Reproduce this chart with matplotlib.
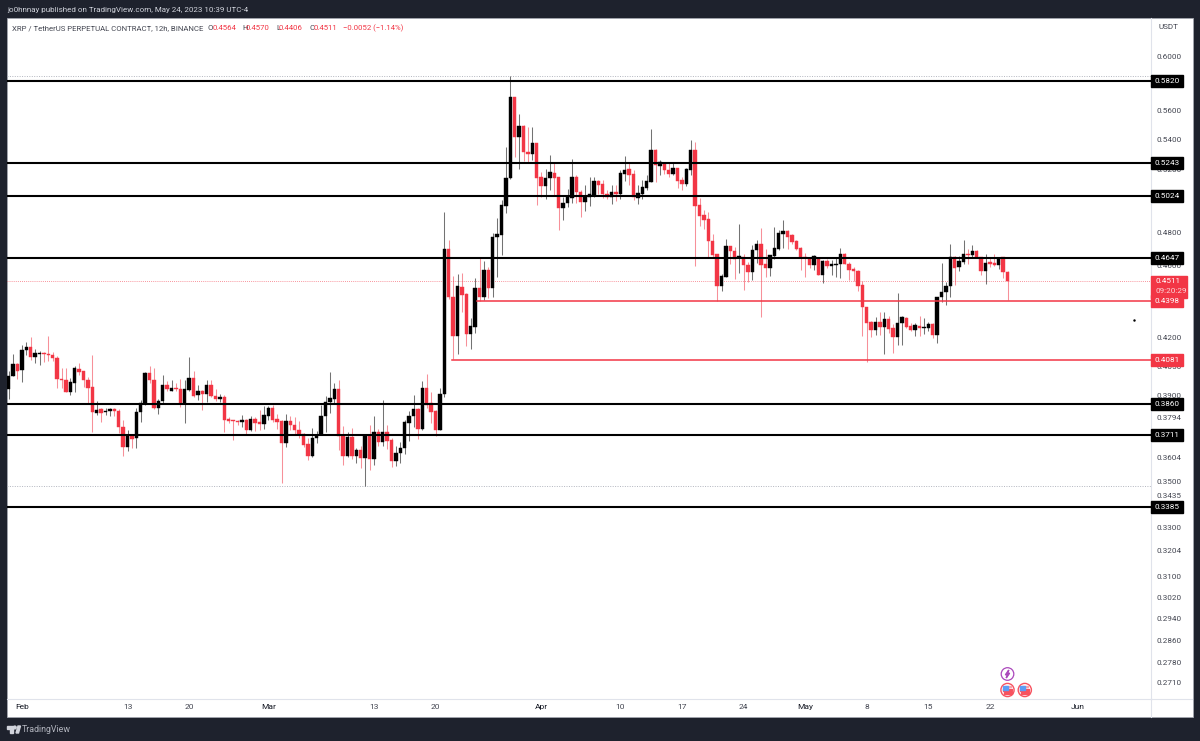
import matplotlib
matplotlib.use("Agg")
import matplotlib.pyplot as plt
from matplotlib.patches import Rectangle, Circle, Polygon

plt.rcParams["font.family"] = ["Roboto", "DejaVu Sans"]

opens = [
    .3935, .3997, .4061, .4031, .4134, .4148, .4099, .4115, .4120, .4113,
    .4108, .4094, .3985, .3980, .3920, .3963, .4036, .4024, .3980, .3943,
    .3818, .3835, .3819, .3824, .3835, .3826, .3749, .3654, .3708, .3695,
    .3821, .3864, .4014, .3980, .3840, .3874, .3953, .3926, .3941, .3933,
    .3861, .3930, .3988, .3904, .3922, .3907, .3955, .3900, .3883, .3893,
    .3787, .3782, .3778, .3770, .3780, .3736, .3787, .3771, .3765, .3803, .3838,
    .3787, .3779, .3674, .3775, .3756, .3736, .3717, .3670, .3612, .3697,
    .3714, .3800, .3867, .3886, .3933, .3709, .3613, .3703, .3615, .3640,
    .3603, .3712, .3601, .3726, .3677, .3725, .3686, .3588, .3625, .3648,
    .3768, .3800, .3835, .3741, .3938, .3864, .3827, .3733, .3910, .4698,
    .4424, .4209, .4477, .4437, .4216, .4255, .4470, .4424, .4574, .4473,
    .4771, .4785, .4965, .5142, .5703, .5415, .5492, .5317, .5299, .5374,
    .5150, .5090, .5142, .5174, .5150, .4952, .4981, .5015, .5150, .5055,
    .4986, .5019, .5029, .5124, .5102, .5042, .5023, .5050, .5036, .5171,
    .5201, .5167, .5015, .5042, .5076, .5117, .5326, .5224, .5241, .5197,
    .5171, .5210, .5128, .5106, .5197, .5326, .4969, .4906, .4881, .4747,
    .4667, .4483, .4536, .4715, .4688, .4645, .4651, .4607, .4561, .4692,
    .4727, .4613, .4590, .4659, .4702, .4791, .4808, .4781, .4747, .4705,
    .4649, .4643, .4603, .4645, .4546, .4629, .4601, .4607, .4609, .4667,
    .4613, .4580, .4572, .4488, .4367, .4283, .4240, .4285, .4258, .4300,
    .4251, .4203, .4279, .4306, .4262, .4240, .4262, .4251, .4251, .4271,
    .4213, .4420, .4449, .4483, .4649, .4595, .4625, .4672, .4664, .4686,
    .4649, .4570, .4620, .4617, .4603, .4649, .4564,
]
highs = [
    .4027, .4113, .4068, .4160, .4178, .4201, .4139, .4130, .4125, .4209,
    .4125, .4103, .4040, .4040, .3988, .4048, .4065, .4027, .3993, .4106,
    .3875, .3840, .3840, .3842, .3838, .3835, .3784, .3733, .3712, .3840,
    .3880, .4022, .4051, .4040, .3883, .4005, .3972, .3980, .3963, .3984,
    .3980, .4095, .4027, .3953, .3930, .3980, .3980, .3933, .3910, .3905,
    .3797, .3784, .3784, .3808, .3787, .3803, .3797, .3829, .3851, .3848, .3856,
    .3813, .3784, .3810, .3803, .3797, .3775, .3720, .3695, .3742, .3728,
    .3853, .3900, .4022, .3963, .3980, .3752, .3723, .3744, .3652, .3658,
    .3715, .3760, .3803, .3739, .3877, .3760, .3697, .3661, .3677, .3780,
    .3824, .3905, .3840, .3972, .4010, .3917, .3832, .3938, .4927, .4751,
    .4540, .4551, .4559, .4441, .4303, .4532, .4652, .4629, .4595, .4795,
    .4887, .4999, .5348, .5856, .5703, .5578, .5499, .5487, .5487, .5376,
    .5182, .5201, .5292, .5241, .5150, .5019, .5074, .5268, .5161, .5063,
    .5096, .5150, .5146, .5128, .5128, .5063, .5096, .5096, .5193, .5285,
    .5239, .5193, .5096, .5132, .5161, .5470, .5337, .5264, .5249, .5249,
    .5241, .5210, .5150, .5210, .5394, .5381, .5015, .4939, .4923, .4787,
    .4672, .4551, .4761, .4715, .4711, .4852, .4667, .4623, .4721, .4751,
    .4829, .4702, .4661, .4832, .4816, .4873, .4816, .4787, .4755, .4711,
    .4676, .4651, .4661, .4645, .4633, .4637, .4633, .4643, .4708, .4676,
    .4623, .4595, .4574, .4513, .4367, .4290, .4308, .4339, .4339, .4316,
    .4272, .4441, .4316, .4308, .4276, .4276, .4316, .4303, .4285, .4279,
    .4424, .4617, .4507, .4727, .4655, .4655, .4755, .4702, .4721, .4696,
    .4649, .4672, .4643, .4672, .4651, .4651, .4570,
]
lows = [
    .3883, .3997, .3984, .3967, .4108, .4082, .4065, .4053, .4073, .4077,
    .4078, .3938, .3938, .3917, .3905, .3917, .4005, .3946, .3864, .3723,
    .3804, .3771, .3808, .3800, .3803, .3720, .3612, .3635, .3651, .3648,
    .3771, .3856, .3963, .3835, .3811, .3864, .3926, .3922, .3926, .3845,
    .3768, .3926, .3893, .3880, .3829, .3867, .3893, .3872, .3867, .3725,
    .3768, .3686, .3760, .3747, .3709, .3728, .3728, .3736, .3739, .3784, .3771,
    .3739, .3489, .3656, .3736, .3712, .3697, .3656, .3594, .3609, .3674,
    .3712, .3723, .3814, .3864, .3640, .3571, .3609, .3597, .3582, .3560,
    .3478, .3549, .3570, .3658, .3661, .3643, .3561, .3567, .3579, .3620,
    .3681, .3749, .3692, .3736, .3840, .3768, .3705, .3733, .3895, .4408,
    .4086, .4113, .4339, .4155, .4138, .4224, .4400, .4404, .4415, .4420,
    .4536, .4661, .4918, .5139, .5280, .5201, .5254, .5249, .5264, .4969,
    .5023, .5007, .5067, .5029, .4816, .4873, .4956, .4981, .4981, .4897,
    .4931, .4960, .5021, .5042, .5015, .5008, .4973, .4992, .5010, .5120,
    .5096, .4998, .4977, .5010, .5067, .5117, .5117, .5161, .5167, .5150,
    .5161, .5076, .5063, .5089, .5161, .4597, .4836, .4822, .4643, .4643,
    .4400, .4456, .4536, .4609, .4521, .4559, .4460, .4507, .4517, .4617,
    .4309, .4536, .4540, .4637, .4696, .4704, .4702, .4731, .4692, .4578,
    .4536, .4590, .4574, .4546, .4498, .4590, .4546, .4536, .4527, .4609,
    .4517, .4513, .4456, .4208, .4073, .4203, .4213, .4213, .4113, .4222,
    .4117, .4160, .4160, .4249, .4236, .4208, .4208, .4219, .4236, .4196,
    .4173, .4394, .4376, .4424, .4488, .4570, .4609, .4613, .4649, .4643,
    .4546, .4494, .4595, .4597, .4584, .4527, .4406,
]
closes = [
    .4000, .4061, .4027, .4134, .4148, .4099, .4117, .4120, .4110, .4106,
    .4092, .3985, .3977, .3920, .3967, .4041, .4021, .3977, .3938, .3819,
    .3832, .3818, .3826, .3835, .3824, .3747, .3654, .3712, .3694, .3822,
    .3864, .4017, .3977, .3840, .3874, .3953, .3933, .3941, .3933, .3861,
    .3933, .3988, .3900, .3924, .3907, .3955, .3897, .3883, .3893, .3780,
    .3779, .3775, .3770, .3780, .3736, .3789, .3768, .3762, .3806, .3840, .3784,
    .3771, .3674, .3775, .3756, .3733, .3712, .3666, .3612, .3698, .3712,
    .3803, .3870, .3888, .3933, .3705, .3613, .3703, .3613, .3640, .3603,
    .3712, .3601, .3725, .3677, .3726, .3684, .3588, .3628, .3651, .3771,
    .3803, .3835, .3739, .3938, .3856, .3822, .3733, .3910, .4698, .4420,
    .4209, .4483, .4430, .4216, .4262, .4470, .4420, .4574, .4473, .4771,
    .4787, .4969, .5145, .5703, .5415, .5492, .5312, .5299, .5376, .5145,
    .5090, .5145, .5180, .5145, .4952, .4981, .5019, .5150, .5050, .4986,
    .5019, .5042, .5124, .5098, .5042, .5019, .5050, .5042, .5174, .5197,
    .5161, .5023, .5047, .5085, .5124, .5326, .5226, .5249, .5193, .5171,
    .5206, .5124, .5106, .5201, .5326, .4965, .4903, .4877, .4747, .4661,
    .4483, .4540, .4715, .4688, .4639, .4655, .4603, .4561, .4696, .4727,
    .4607, .4590, .4661, .4704, .4795, .4808, .4771, .4743, .4699, .4645,
    .4643, .4603, .4655, .4547, .4629, .4599, .4609, .4613, .4667, .4613,
    .4574, .4568, .4485, .4364, .4279, .4240, .4285, .4258, .4300, .4247,
    .4203, .4276, .4308, .4258, .4240, .4265, .4253, .4256, .4271, .4213,
    .4424, .4450, .4483, .4649, .4590, .4629, .4672, .4664, .4686, .4645,
    .4570, .4617, .4613, .4605, .4645, .4561, .4511,
]

black_levels = [.5820, .5243, .5024, .4647, .3860, .3711, .3385]
red_levels = [.4398, .4081]
red_level_start = [106.4, 100.8]
price_ticks = [.6000, .5600, .5400, .5200, .5000, .4800, .4600, .4200, .4050, .3900, .3794,
               .3604, .3500, .3435, .3300, .3204, .3100, .3020, .2940, .2860, .2780, .2710]
date_ticks = [3, 27, 41, 59, 83, 97, 121, 139, 153, 167, 181, 195, 209, 223, 243]
date_labels = ["Feb", "13", "20", "Mar", "13", "20", "Apr", "10", "17", "24", "May", "8", "15", "22", "Jun"]
months = ["Feb", "Mar", "Apr", "May", "Jun"]

W, H = 1200, 741
DARK = "#1e222d"
RED = "#f23645"
TEXT = "#434651"

fig = plt.figure(figsize=(12, 7.41), dpi=100, facecolor=DARK)

# background layer in pixel coordinates
bg = fig.add_axes([0, 0, 1, 1], zorder=0)
bg.set_xlim(0, W)
bg.set_ylim(H, 0)
bg.axis("off")
bg.add_patch(Rectangle((7, 18), 1185.5, 699, facecolor="white", edgecolor="#a3a6af", lw=0.6))
bg.plot([1151, 1151], [699, 717], color="#e0e3eb", lw=0.8)
bg.plot([1151, 1192], [699, 699], color="#e0e3eb", lw=0.8)

bg.text(7, 10, "jo0hnnay published on TradingView.com, May 24, 2023 10:39 UTC-4", color="#d1d4dc",
        fontsize=5.8, va="center")
bg.text(12, 28, "XRP / TetherUS PERPETUAL CONTRACT, 12h, BINANCE", color=TEXT, fontsize=5.6, va="center")
for x, s, c in [(208, "O", TEXT), (213, "0.4564", RED), (242, "H", TEXT), (246, "0.4570", RED),
                (276, "L", TEXT), (279, "0.4406", RED), (309, "C", TEXT), (314, "0.4511", RED),
                (343, "\u22120.0052 (\u22121.14%)", RED)]:
    bg.text(x, 28, s, color=c, fontsize=5.6, va="center")
bg.text(1168, 27, "USDT", color=TEXT, fontsize=5.9, ha="center", va="center")

# tradingview logo
bg.add_patch(Polygon([(7, 726), (13, 726), (13, 733), (10, 733), (10, 729), (7, 729)], color="#d1d4dc"))
bg.add_patch(Circle((14.8, 727.5), 1.4, color="#d1d4dc"))
bg.add_patch(Polygon([(16, 733), (18, 726), (20.5, 726), (18.5, 733)], color="#d1d4dc"))
bg.text(22, 729.5, "TradingView", color="#b2b5be", fontsize=6.4, va="center")

# chart area, x is candle number
ax = fig.add_axes([7 / W, 1 - 699 / H, 1144 / W, 681 / H], zorder=1)
ax.patch.set_alpha(0)
ax.set_yscale("log")
ax.set_xlim(-0.386, 259.6)
ax.set_ylim(0.26537, 0.6301)

x = list(range(len(opens)))
for i in x:
    col = "black" if closes[i] >= opens[i] else RED
    ax.vlines(i, lows[i], highs[i], color=col, lw=0.75, alpha=0.55, zorder=2)
    ax.bar(i, abs(closes[i] - opens[i]), bottom=min(opens[i], closes[i]), width=0.76,
           color=col, edgecolor=col, lw=0.3, zorder=3)

ax.axhline(max(highs), color="#b2b5be", lw=0.7, ls=(0, (1, 1.5)), zorder=1)
ax.axhline(min(lows), color="#b2b5be", lw=0.7, ls=(0, (1, 1.5)), zorder=1)
ax.axhline(closes[-1], color=RED, lw=0.6, alpha=0.7, ls=(0, (1, 1.5)), zorder=1)

for p in black_levels:
    ax.axhline(p, color="black", lw=1.5, zorder=4)
for p, start in zip(red_levels, red_level_start):
    ax.plot([start, 259.6], [p, p], color=RED, lw=1.1, zorder=4)
ax.plot([255.75], [.4294], marker=".", ms=1.5, color="black", zorder=4)

ax.yaxis.tick_right()
ax.set_yticks(price_ticks)
ax.set_yticklabels([f"{p:.4f}" for p in price_ticks], color=TEXT, fontsize=5.9)
ax.minorticks_off()
ax.tick_params(axis="y", length=0, pad=4.2)
ax.set_xticks(date_ticks)
ax.set_xticklabels(date_labels, fontsize=6.0, color=TEXT)
for lab in ax.get_xticklabels():
    if lab.get_text() in months:
        lab.set_color("#131722")
ax.tick_params(axis="x", length=0, pad=3.5)
for side in ["top", "left"]:
    ax.spines[side].set_visible(False)
for side in ["right", "bottom"]:
    ax.spines[side].set_color("#e0e3eb")
    ax.spines[side].set_linewidth(0.8)

# price flags on the axis
trans = ax.get_yaxis_transform()


def flag(price, label, col, wide=0.028):
    ax.add_patch(Rectangle((1.0, price * 0.9924), wide, price * 0.0152, transform=trans, color=col,
                           clip_on=False, zorder=6))
    ax.text(1.014, price, label, transform=trans, color="white", fontsize=5.9, ha="center",
            va="center", clip_on=False, zorder=7)


for p in black_levels:
    flag(p, f"{p:.4f}", "black")
ax.add_patch(Rectangle((1.0, .4415), 0.0315, .4538 - .4415, transform=trans, color=RED, clip_on=False, zorder=6))
ax.text(1.0042, closes[-1], "0.4511", transform=trans, color="white", fontsize=5.9, va="center",
        clip_on=False, zorder=7)
ax.text(1.0042, .4455, "09:20:29", transform=trans, color="#fbd5d8", fontsize=5.9, va="center",
        clip_on=False, zorder=7)
for p in red_levels:
    flag(p, f"{p:.4f}", RED)

# event icons
top = fig.add_axes([0, 0, 1, 1], zorder=2)
top.set_xlim(0, W)
top.set_ylim(H, 0)
top.axis("off")
top.add_patch(Circle((1007.5, 674), 6.3, facecolor="white", edgecolor="#ab47bc", lw=0.9))
top.add_patch(Polygon([(1008.8, 670), (1005.4, 674.8), (1007.5, 674.8), (1006.2, 678), (1009.6, 673.2), (1007.6, 673.2)],
                      color="#ab47bc"))
for cx in [1007.5, 1024.8]:
    top.add_patch(Circle((cx, 690), 6.6, facecolor="white", edgecolor="#f7525f", lw=1.0))
    top.add_patch(Rectangle((cx - 4.6, 689.2), 9.2, 1.5, color="#f7525f"))
    top.add_patch(Rectangle((cx - 4.0, 692.0), 8.0, 1.5, color="#f7525f"))
    top.add_patch(Rectangle((cx - 3.0, 686.2), 6.0, 1.2, color="#f7a0a8"))
    top.add_patch(Rectangle((cx - 4.4, 685.5), 4.6, 4.2, color="#5b9cf6"))

fig.savefig("out.png", dpi=100, facecolor=DARK)
